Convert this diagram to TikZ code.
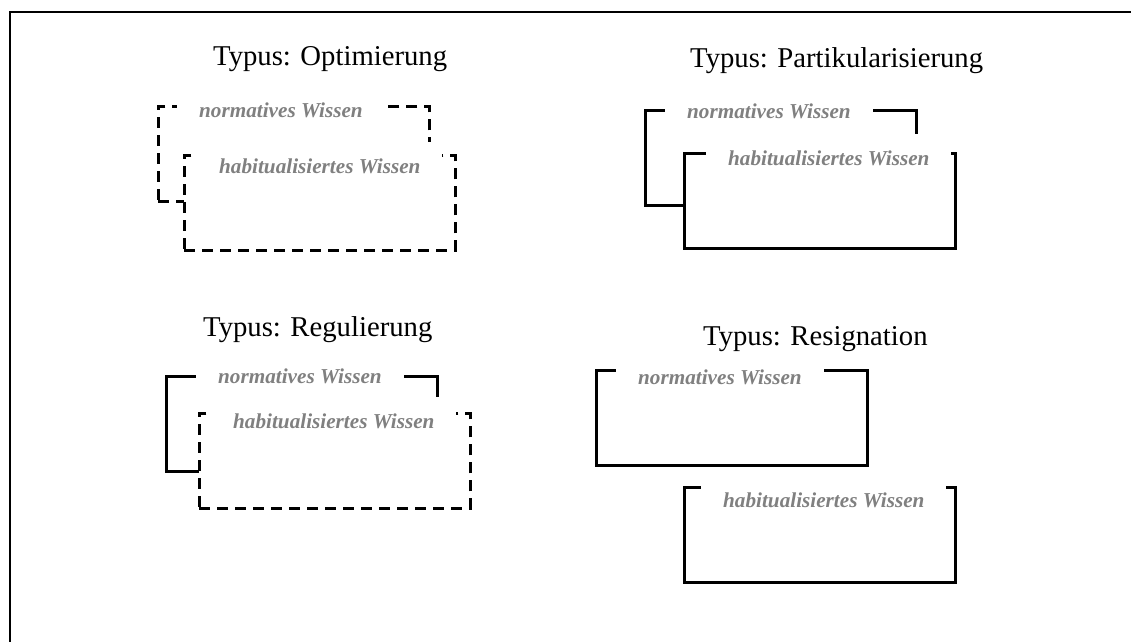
\documentclass[tikz,border=0pt]{standalone}
\usepackage{fontspec}
\setmainfont{Liberation Serif}
\begin{document}
\begin{tikzpicture}[x=1pt,y=-1pt,
  sbox/.style={draw, line width=2.5pt, anchor=north west, minimum width=271pt, minimum height=95pt, inner sep=0pt},
  dbox/.style={sbox, dash pattern=on 11pt off 7pt},
  hab/.style={fill=white},
  title/.style={anchor=base west, inner sep=0pt, font=\fontsize{28.7}{32}\selectfont},
  lbl/.style={anchor=base west, fill=white, inner xsep=22pt, inner ysep=16pt, text height=15pt, text depth=5pt, text=black!50, font=\fontsize{21.2}{24}\selectfont\bfseries\itshape}]
\clip (0,0) rectangle (1131,641);
\useasboundingbox (0,0) rectangle (1131,641);
\fill[white] (0,0) rectangle (1131,641);
\draw[line width=2.5pt] (1140,12) -- (10,12) -- (10,650);

% Optimierung
\node[title] (t1) at (213,65) {Typus: Optimierung};
\node[dbox] (n1) at (157,105) {};
\node[lbl] (ln1) at (177,117) {normatives Wissen};
\node[dbox,hab] (h1) at (183,154) {};
\node[lbl] (lh1) at (197,173) {habitualisiertes Wissen};

% Partikularisierung
\node[title] (t2) at (690,67) {Typus: Partikularisierung};
\node[sbox] (n2) at (644,109) {};
\node[lbl] (ln2) at (665,118) {normatives Wissen};
\node[sbox,hab] (h2) at (683,152) {};
\node[lbl] (lh2) at (706,165) {habitualisiertes Wissen};

% Regulierung
\node[title] (t3) at (203,336) {Typus: Regulierung};
\node[sbox] (n3) at (165,375) {};
\node[lbl] (ln3) at (196,383) {normatives Wissen};
\node[dbox,hab] (h3) at (198,412) {};
\node[lbl] (lh3) at (211,428) {habitualisiertes Wissen};

% Resignation
\node[title] (t4) at (703,345) {Typus: Resignation};
\node[sbox] (n4) at (595,369) {};
\node[lbl] (ln4) at (616,384) {normatives Wissen};
\node[sbox,hab] (h4) at (683,486) {};
\node[lbl] (lh4) at (701,507) {habitualisiertes Wissen};
\end{tikzpicture}
\end{document}
